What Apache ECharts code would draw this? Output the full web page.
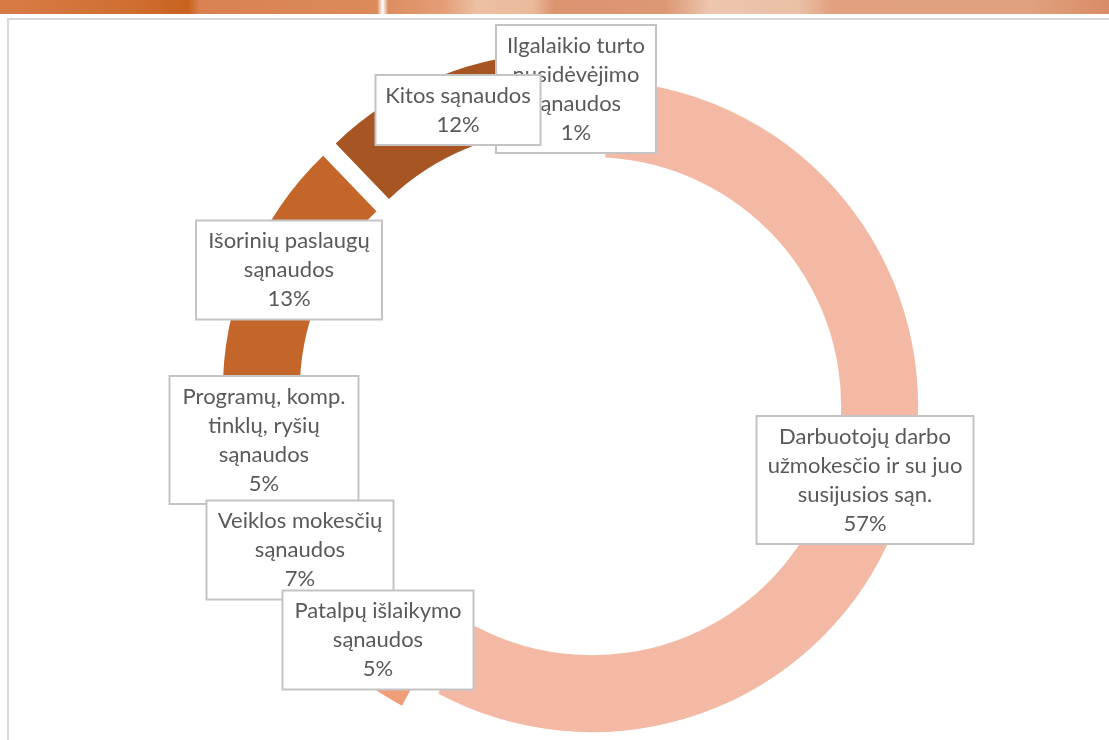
<!DOCTYPE html>
<html>
<head>
<meta charset="utf-8">
<script src="https://cdn.jsdelivr.net/npm/echarts@6/dist/echarts.min.js"></script>
<style>
  html, body { margin: 0; padding: 0; background: #fff; }
  #Costs { width: 1109px; height: 740px; }
</style>
</head>
<body>
<div id="Costs"></div>
<script>
// sąnaudų struktūra (eilė prieš laikrodžio rodyklę nuo viršaus)
var categories = [
  'Ilgalaikio turto nusidėvėjimo sąnaudos',
  'Kitos sąnaudos',
  'Išorinių paslaugų sąnaudos',
  'Programų, komp. tinklų, ryšių sąnaudos',
  'Veiklos mokesčių sąnaudos',
  'Patalpų išlaikymo sąnaudos',
  'Darbuotojų darbo užmokesčio ir su juo susijusios sąn.'
];
var shares = [1, 12, 13, 5, 7, 5, 57];
var labelText = [
  'Ilgalaikio turto\nnusidėvėjimo\nsąnaudos',
  'Kitos sąnaudos',
  'Išorinių paslaugų\nsąnaudos',
  'Programų, komp.\ntinklų, ryšių\nsąnaudos',
  'Veiklos mokesčių\nsąnaudos',
  'Patalpų išlaikymo\nsąnaudos',
  'Darbuotojų darbo\nužmokesčio ir su juo\nsusijusios sąn.'
];
var colors = ['#843F17', '#A75623', '#C4662A', '#D87837', '#E98B5C', '#F09E78', '#F4B9A4'];

// etikečių dėžučių centrai ir pločiai
var boxPos = [[576, 89], [458, 110], [289, 270], [264, 440], [300, 550], [378, 640], [865, 480]];
var boxW = [158, 163, 184, 187, 185, 189, 215];

var Costs = echarts.init(document.getElementById('Costs'));

// žiedas su atitrauktais sektoriais
var ringItems = categories.map(function (name, i) {
  return {
    name: name,
    value: shares[i],
    selected: true,
    itemStyle: { color: colors[i] }
  };
});
// etiketės - atskira nematoma serija, kad atitraukimas jų nestumdytų
var labelItems = categories.map(function (name, i) {
  return {
    name: name,
    value: shares[i],
    label: { width: boxW[i] - 10 }
  };
});

Costs.setOption({
  animation: false,
  graphic: [
    {
      type: 'rect',
      shape: { x: 0, y: 0, width: 1109, height: 14 },
      style: {
        fill: new echarts.graphic.LinearGradient(0, 0, 1, 0, [
          { offset: 0, color: '#D87C47' },
          { offset: 0.12, color: '#CF6E31' },
          { offset: 0.17, color: '#C9621F' },
          { offset: 0.18, color: '#D98150' },
          { offset: 0.34, color: '#DC8A5A' },
          { offset: 0.345, color: '#FFFFFF' },
          { offset: 0.35, color: '#DC8D60' },
          { offset: 0.40, color: '#E39E77' },
          { offset: 0.43, color: '#ECC0A2' },
          { offset: 0.48, color: '#EBBA9B' },
          { offset: 0.50, color: '#DB9370' },
          { offset: 0.60, color: '#DC9774' },
          { offset: 0.64, color: '#EDC6AE' },
          { offset: 0.72, color: '#EAC0A6' },
          { offset: 0.75, color: '#E2A07E' },
          { offset: 0.93, color: '#E0A07D' },
          { offset: 1, color: '#D98C66' }
        ])
      },
      silent: true
    },
    {
      type: 'rect',
      shape: { x: 8, y: 19, width: 1200, height: 800 },
      style: { fill: '#fff', stroke: '#D9D9D9', lineWidth: 2 },
      silent: true,
      z: -1
    }
  ],
  series: [
    {
      name: 'Sąnaudos',
      type: 'pie',
      center: [570, 400],
      radius: [249, 326],
      startAngle: 87,
      clockwise: false,
      avoidLabelOverlap: false,
      selectedMode: 'multiple',
      selectedOffset: 23,
      emphasis: { disabled: true },
      select: { itemStyle: {} },
      label: { show: false },
      labelLine: { show: false },
      data: ringItems
    },
    {
      name: 'Etiketės',
      type: 'pie',
      z: 3,
      silent: true,
      center: [570, 400],
      radius: [249, 326],
      startAngle: 87,
      clockwise: false,
      avoidLabelOverlap: false,
      emphasis: { disabled: true },
      itemStyle: { color: 'rgba(0,0,0,0)' },
      label: {
        show: true,
        position: 'inside',
        formatter: function (p) {
          return labelText[p.dataIndex] + '\n' + Math.round(p.percent) + '%';
        },
        fontFamily: 'Lato',
        fontSize: 22,
        lineHeight: 29,
        color: '#595959',
        align: 'center',
        verticalAlign: 'middle',
        overflow: 'none',
        backgroundColor: '#fff',
        borderColor: '#C4C4C4',
        borderWidth: 2,
        padding: [5, 5]
      },
      labelLine: { show: false },
      labelLayout: function (params) {
        var pos = boxPos[params.dataIndex];
        return { x: pos[0], y: pos[1], align: 'center', verticalAlign: 'middle' };
      },
      data: labelItems
    }
  ]
});
</script>
</body>
</html>
